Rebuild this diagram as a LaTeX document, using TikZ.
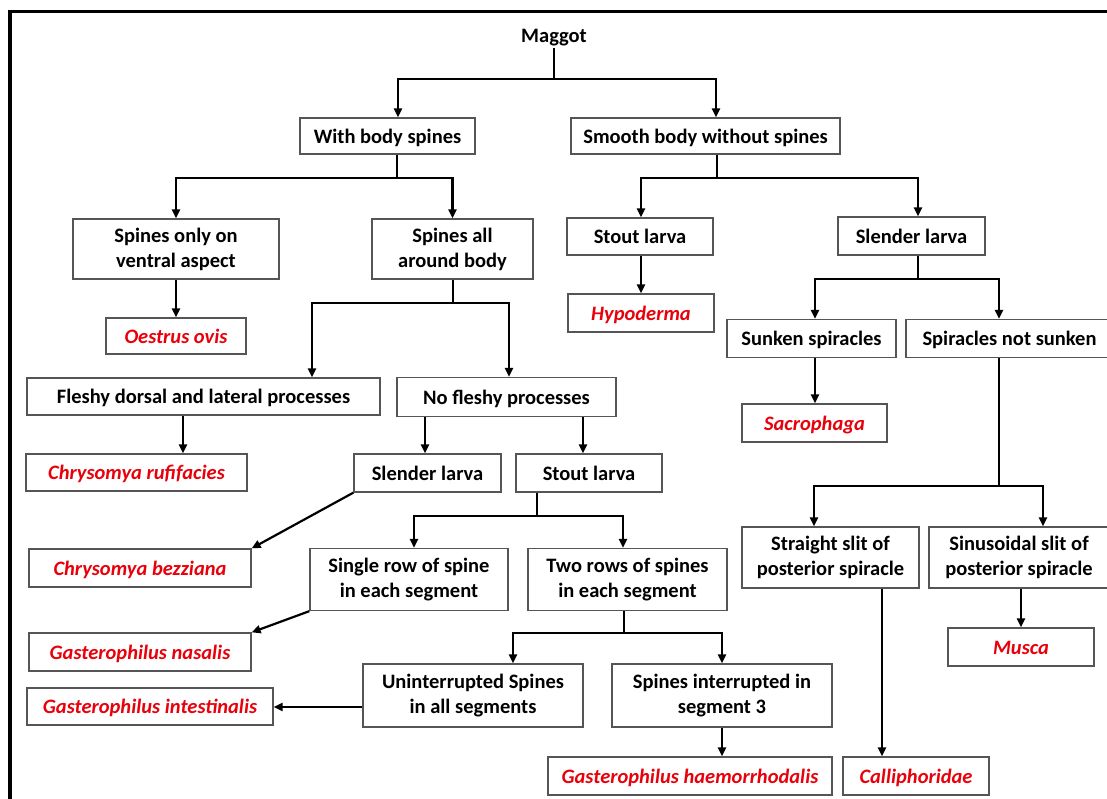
\documentclass[tikz,border=0pt]{standalone}
\usepackage{fontspec}
\setmainfont{Carlito}
\usetikzlibrary{arrows.meta}
\definecolor{boxgray}{HTML}{555555}
\definecolor{spred}{HTML}{E8000B}
\begin{document}
\begin{tikzpicture}[x=1pt,y=-1pt,
  font=\fontsize{20.5}{25}\selectfont\bfseries,
  box/.style={draw=boxgray, line width=1.3pt, align=center, inner sep=0pt},
  box1/.style={box, text height=16.5pt, text depth=2pt},
  sp/.style={box1, text=spred, font=\fontsize{20.5}{25}\selectfont\bfseries\itshape},
  conn/.style={line width=2.2pt, black},
  arr/.style={conn, -{Triangle[length=9pt,width=8pt]}},
]
\useasboundingbox (0,0) rectangle (1107,798);
\clip (0,0) rectangle (1107,798);
\fill[white] (0,0) rectangle (1107,798);
\draw[line width=3.3pt] (10,830) -- (10,11.5) -- (1140,11.5);

% nodes
\node[anchor=base, inner sep=2pt] (maggot) at (554,42) {Maggot};
\node[box1, minimum width=175, minimum height=36] (body) at (387.5,136) {With body spines};
\node[box1, minimum width=269, minimum height=36] (smooth) at (705.5,136) {Smooth body without spines};
\node[box, minimum width=206, minimum height=60] (ventral) at (176,249) {Spines only on\\ventral aspect};
\node[box, minimum width=161, minimum height=60] (around) at (452.5,249) {Spines all\\around body};
\node[box1, minimum width=146, minimum height=37] (stoutR) at (640,236.5) {Stout larva};
\node[box1, minimum width=147, minimum height=38] (slenderR) at (911.5,236) {Slender larva};
\node[sp, minimum width=146, minimum height=38] (hypo) at (641,313) {Hypoderma};
\node[sp, minimum width=140, minimum height=36] (oestrus) at (176,336) {Oestrus ovis};
\node[box1, minimum width=169, minimum height=38] (sunken) at (811.5,338.5) {Sunken spiracles};
\node[box1, minimum width=207, minimum height=38] (notsunken) at (1009.5,338.5) {Spiracles not sunken};
\node[box1, minimum width=353, minimum height=37] (fleshy) at (203.5,396.5) {Fleshy dorsal and lateral processes};
\node[box1, minimum width=219, minimum height=39] (nofleshy) at (506.5,397) {No fleshy processes};
\node[sp, minimum width=145, minimum height=38] (sacro) at (814.5,423) {Sacrophaga};
\node[sp, minimum width=221, minimum height=37] (rufi) at (136.5,472.5) {Chrysomya rufifacies};
\node[box1, minimum width=147, minimum height=38] (slenderL) at (427.5,473) {Slender larva};
\node[box1, minimum width=146, minimum height=38] (stoutL) at (589,473) {Stout larva};
\node[sp, minimum width=222, minimum height=38] (bezz) at (140,568) {Chrysomya bezziana};
\node[box, minimum width=198, minimum height=62] (single) at (409,579.5) {Single row of spine\\in each segment};
\node[box, minimum width=199, minimum height=62] (two) at (627.5,579.5) {Two rows of spines\\in each segment};
\node[box, minimum width=177, minimum height=61] (straight) at (830.5,557.5) {Straight slit of\\posterior spiracle};
\node[box, minimum width=180, minimum height=61] (sinus) at (1019,557.5) {Sinusoidal slit of\\posterior spiracle};
\node[sp, minimum width=222, minimum height=38] (nasalis) at (140,652) {Gasterophilus nasalis};
\node[sp, minimum width=146, minimum height=38] (musca) at (1021,647) {Musca};
\node[sp, minimum width=246, minimum height=37] (intest) at (150,706.5) {Gasterophilus intestinalis};
\node[box, minimum width=220, minimum height=63] (unint) at (473,695.5) {Uninterrupted Spines\\in all segments};
\node[box, minimum width=220, minimum height=63] (interr) at (722,695.5) {Spines interrupted in\\segment 3};
\node[sp, minimum width=284, minimum height=38] (haem) at (690,776) {Gasterophilus haemorrhodalis};
\node[sp, minimum width=146, minimum height=38] (calli) at (916,776) {Calliphoridae};

% connectors
\coordinate (m) at (554,79);
\draw[conn] (maggot.south) -- (m);
\draw[arr] (m) -| ([xshift=10.5]body.north);
\draw[arr] (m) -| ([xshift=10.5]smooth.north);

\coordinate (b1) at (397,178);
\draw[conn] ([xshift=9.5]body.south) -- (b1);
\draw[arr] (b1) -| (ventral.north);
\draw[arr] (b1) -| (around.north);

\coordinate (s1) at (717,178);
\draw[conn] ([xshift=11.5]smooth.south) -- (s1);
\draw[arr] (s1) -| ([xshift=1]stoutR.north);
\draw[arr] (s1) -| ([xshift=6.5]slenderR.north);

\draw[arr] (ventral.south) -- (oestrus.north);

\coordinate (a1) at (453,303);
\draw[conn] ([xshift=0.5]around.south) -- (a1);
\draw[arr] (a1) -| ([xshift=108.5]fleshy.north);
\draw[arr] (a1) -| ([xshift=2.5]nofleshy.north);

\draw[arr] ([xshift=1]stoutR.south) -- (hypo.north);

\coordinate (r1) at (918,279);
\draw[conn] ([xshift=6.5]slenderR.south) -- (r1);
\draw[arr] (r1) -| ([xshift=3.5]sunken.north);
\draw[arr] (r1) -| ([xshift=-10.5]notsunken.north);

\draw[arr] ([xshift=-20.5]fleshy.south) -- ([xshift=46.5]rufi.north);
\draw[arr] ([xshift=-81.5]nofleshy.south) -- ([xshift=-2.5]slenderL.north);
\draw[arr] ([xshift=76.5]nofleshy.south) -- ([xshift=-6]stoutL.north);
\draw[arr] ([xshift=3.5]sunken.south) -- ([xshift=0.5]sacro.north);
\draw[arr] (slenderL.south west) -- (bezz.north east);

\coordinate (t1) at (537,516);
\draw[conn] ([xshift=-52]stoutL.south) -- (t1);
\draw[arr] (t1) -| ([xshift=5]single.north);
\draw[arr] (t1) -| ([xshift=-4.5]two.north);

\coordinate (n1) at (999,486);
\draw[conn] ([xshift=-10.5]notsunken.south) -- (n1);
\draw[arr] (n1) -| ([xshift=-16.5]straight.north);
\draw[arr] (n1) -| ([xshift=24]sinus.north);

\draw[arr] (single.south west) -- (nasalis.north east);

\coordinate (w1) at (624,633);
\draw[conn] ([xshift=-3.5]two.south) -- (w1);
\draw[arr] (w1) -| ([xshift=40]unint.north);
\draw[arr] (w1) -| (interr.north);

\draw[arr] ([xshift=51.5]straight.south) -- ([xshift=-34]calli.north);
\draw[arr] ([xshift=2]sinus.south) -- (musca.north);
\draw[arr] ([yshift=-11.5]unint.west) -- ([yshift=-0.5]intest.east);
\draw[arr] (interr.south) -- ([xshift=32]haem.north);
\end{tikzpicture}
\end{document}
